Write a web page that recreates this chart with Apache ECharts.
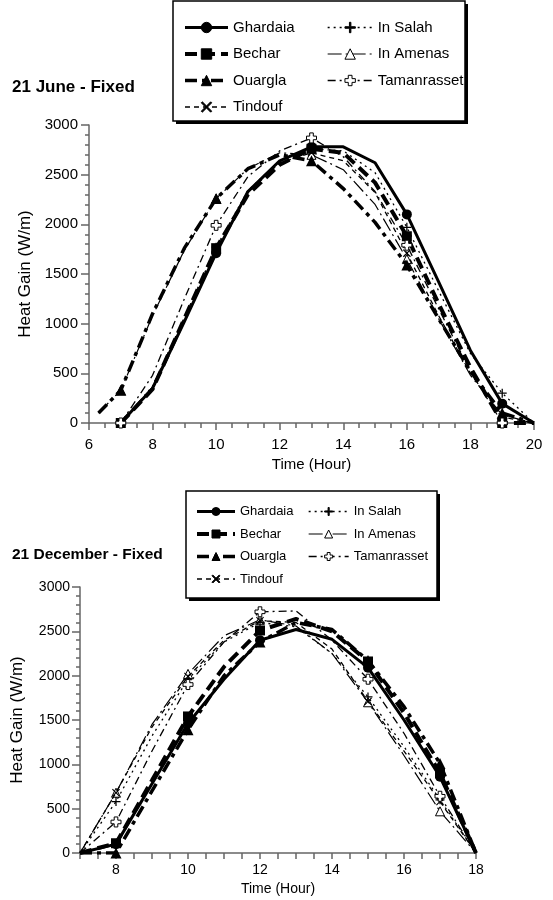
<!DOCTYPE html>
<html><head><meta charset="utf-8">
<script src="https://cdn.jsdelivr.net/npm/echarts@6/dist/echarts.min.js"></script>
<style>html,body{margin:0;padding:0;background:#fff}#c{width:553px;height:900px}</style>
</head><body><div id="c"></div>
<script>
const stations = ['Ghardaia','Bechar','Ouargla','Tindouf','In Salah','In Amenas','Tamanrasset'];

// 21 June - Fixed
const juneHours       = [6.3, 7, 8, 9, 10, 11, 12, 13, 14, 15, 16, 17, 18, 19, 20];
const juneGhardaia    = [null, 0, 350, 1020, 1710, 2330, 2640, 2780, 2780, 2620, 2100, 1420, 730, 195, 0];
const juneBechar      = [null, 0, 340, 1050, 1760, 2300, 2600, 2760, 2720, 2420, 1880, 1200, 560, 0, 0];
const juneOuargla     = [100, 330, 1100, 1760, 2260, 2560, 2700, 2640, 2360, 2020, 1590, 1050, 520, 100, 0];
const juneTindouf     = [null, 0, 360, 1060, 1750, 2320, 2620, 2720, 2640, 2320, 1710, 1080, 500, 60, 0];
const juneInSalah     = [null, 0, 370, 1060, 1770, 2340, 2640, 2760, 2740, 2520, 1970, 1330, 700, 300, 0];
const juneInAmenas    = [100, 330, 1080, 1740, 2260, 2560, 2720, 2700, 2550, 2200, 1650, 1050, 480, 80, 0];
const juneTamanrasset = [null, 0, 480, 1250, 1990, 2480, 2740, 2870, 2680, 2330, 1790, 1150, 520, 0, null];
const juneMarkHours   = [7, 10, 13, 16, 19];

// 21 December - Fixed
const decHours        = [7, 8, 9, 10, 11, 12, 13, 14, 15, 16, 17, 18];
const decGhardaia     = [0, 100, 780, 1460, 1960, 2400, 2520, 2410, 2090, 1500, 860, 0];
const decBechar       = [0, 110, 820, 1540, 2100, 2510, 2640, 2500, 2160, 1580, 900, 0];
const decOuargla      = [0, 0, 700, 1390, 2000, 2380, 2600, 2520, 2170, 1650, 1010, 0];
const decTindouf      = [0, 680, 1420, 1990, 2400, 2620, 2600, 2300, 1710, 1150, 580, 0];
const decInSalah      = [0, 580, 1320, 1960, 2380, 2600, 2550, 2250, 1760, 1200, 600, 0];
const decInAmenas     = [0, 680, 1450, 2020, 2450, 2630, 2560, 2250, 1700, 1100, 470, 0];
const decTamanrasset  = [0, 350, 1150, 1900, 2380, 2720, 2730, 2400, 1960, 1350, 640, 0];
const decMarkHours    = [8, 10, 12, 15, 17];

const juneValues = [juneGhardaia, juneBechar, juneOuargla, juneTindouf, juneInSalah, juneInAmenas, juneTamanrasset];
const decValues  = [decGhardaia, decBechar, decOuargla, decTindouf, decInSalah, decInAmenas, decTamanrasset];

const xPath = 'path://M1,0L5,4L9,0L10,1L6,5L10,9L9,10L5,6L1,10L0,9L4,5L0,1Z';
const plusPath = 'path://M4.3,0H5.7V4.3H10V5.7H5.7V10H4.3V5.7H0V4.3H4.3Z';
const crossPath = 'path://M3.2,0H6.8V3.2H10V6.8H6.8V10H3.2V6.8H0V3.2H3.2Z';

const styles = {
  'Ghardaia':    {lw: 3,   type: 'solid',         symbol: 'circle',   size: 10, fill: '#000', z: 3},
  'Bechar':      {lw: 4,   type: [12, 6],         symbol: 'rect',     size: 10, fill: '#000', z: 4},
  'Ouargla':     {lw: 3.5, type: [12, 5, 4, 5],   symbol: 'triangle', size: 11, fill: '#000', z: 5},
  'Tindouf':     {lw: 1.3, type: [5, 4],          symbol: xPath,      size: 8,  fill: '#000', z: 6},
  'In Salah':    {lw: 1.3, type: [2, 4],          symbol: plusPath,   size: 9,  fill: '#000', z: 7},
  'In Amenas':   {lw: 1.2, type: [14, 4, 2, 4],   symbol: 'triangle', size: 9,  fill: '#fff', border: '#000', z: 2},
  'Tamanrasset': {lw: 1.3, type: [8, 4, 2, 4],    symbol: crossPath,  size: 10, fill: '#fff', border: '#000', z: 9}
};

function makeSeries(hours, valuesList, marks, axisIdx) {
  return stations.map((name, k) => {
    const st = styles[name];
    const data = hours.map((h, i) => [h, valuesList[k][i]]).filter(d => d[1] !== null);
    return {
      name: name, type: 'line', xAxisIndex: axisIdx, yAxisIndex: axisIdx,
      data: data, showSymbol: true, showAllSymbol: true,
      symbol: st.symbol,
      symbolSize: function (v) { return marks.indexOf(v[0]) >= 0 ? st.size : 0; },
      lineStyle: {color: '#000', width: st.lw, type: st.type},
      itemStyle: {color: st.fill, borderColor: st.border || '#000', borderWidth: st.border ? 1 : 0},
      z: st.z,
      animation: false,
      emphasis: {disabled: true}
    };
  });
}

const font = 'Liberation Sans, Arial, sans-serif';
const axisLineStyle = {color: '#666', width: 1.5};
const plain = function (v) { return String(v); };

function legend(names, left, top, iw, ih, gap, fs) {
  return {
    data: names, orient: 'vertical', left: left, top: top, padding: 0,
    itemWidth: iw, itemHeight: ih, itemGap: gap, selectedMode: false,
    textStyle: {fontSize: fs, color: '#000', fontFamily: font},
    lineStyle: {width: 'inherit'},
    itemStyle: {borderWidth: 1}
  };
}

const option = {
  animation: false,
  backgroundColor: '#fff',
  title: [
    {text: '21 June - Fixed', left: 12, top: 79, padding: 0,
     textStyle: {fontSize: 17, fontWeight: 'bold', color: '#000', fontFamily: font}},
    {text: '21 December - Fixed', left: 12, top: 547, padding: 0,
     textStyle: {fontSize: 15.5, fontWeight: 'bold', color: '#000', fontFamily: font}}
  ],
  graphic: [
    {type: 'rect', shape: {x: 176, y: 4, width: 292, height: 120}, style: {fill: '#000'}, z: 0},
    {type: 'rect', shape: {x: 173, y: 1, width: 292, height: 120}, style: {fill: '#fff', stroke: '#000', lineWidth: 1.5}, z: 1},
    {type: 'rect', shape: {x: 189, y: 494, width: 251, height: 107}, style: {fill: '#000'}, z: 0},
    {type: 'rect', shape: {x: 186, y: 491, width: 251, height: 107}, style: {fill: '#fff', stroke: '#000', lineWidth: 1.5}, z: 1}
  ],
  legend: [
    legend(stations.slice(0, 4), 183, 20, 43, 13, 11.5, 15),
    legend(stations.slice(4), 327, 20, 45, 13, 11.5, 15),
    legend(stations.slice(0, 4), 195, 505, 38, 10, 9.5, 13),
    legend(stations.slice(4), 308, 505, 40, 10, 9.5, 13)
  ],
  grid: [
    {left: 89, right: 19, top: 125, height: 298},
    {left: 80, right: 77, top: 587, height: 266}
  ],
  xAxis: [
    {type: 'value', gridIndex: 0, min: 6, max: 20, interval: 2,
     name: 'Time (Hour)', nameLocation: 'middle', nameGap: 34,
     nameTextStyle: {fontSize: 15, color: '#000', fontFamily: font},
     axisLine: {lineStyle: axisLineStyle},
     axisTick: {length: 7, lineStyle: axisLineStyle},
     minorTick: {show: true, splitNumber: 4, length: 5, lineStyle: axisLineStyle},
     axisLabel: {fontSize: 15, color: '#000', margin: 14, fontFamily: font, formatter: plain},
     splitLine: {show: false}},
    {type: 'value', gridIndex: 1, min: 7, max: 18, interval: 0.5,
     name: 'Time (Hour)', nameLocation: 'middle', nameGap: 29,
     nameTextStyle: {fontSize: 14, color: '#000', fontFamily: font},
     axisLine: {lineStyle: axisLineStyle},
     axisTick: {length: 6, lineStyle: axisLineStyle},
     axisLabel: {fontSize: 14, color: '#000', margin: 10, fontFamily: font,
       formatter: function (v) { return v % 2 === 0 ? String(v) : ''; }},
     splitLine: {show: false}}
  ],
  yAxis: [
    {type: 'value', gridIndex: 0, min: 0, max: 3000, interval: 500,
     name: 'Heat Gain (W/m)', nameLocation: 'middle', nameGap: 54,
     nameTextStyle: {fontSize: 17, color: '#000', fontFamily: font},
     axisLine: {show: true, lineStyle: axisLineStyle},
     axisTick: {show: true, length: 8, lineStyle: axisLineStyle},
     minorTick: {show: true, splitNumber: 5, length: 4, lineStyle: axisLineStyle},
     axisLabel: {fontSize: 15, color: '#000', margin: 11, fontFamily: font, formatter: plain},
     splitLine: {show: false}},
    {type: 'value', gridIndex: 1, min: 0, max: 3000, interval: 500,
     name: 'Heat Gain (W/m)', nameLocation: 'middle', nameGap: 54,
     nameTextStyle: {fontSize: 17, color: '#000', fontFamily: font},
     axisLine: {show: true, lineStyle: axisLineStyle},
     axisTick: {show: true, length: 8, lineStyle: axisLineStyle},
     minorTick: {show: true, splitNumber: 5, length: 4, lineStyle: axisLineStyle},
     axisLabel: {fontSize: 14, color: '#000', margin: 10, fontFamily: font, formatter: plain},
     splitLine: {show: false}}
  ],
  series: makeSeries(juneHours, juneValues, juneMarkHours, 0)
    .concat(makeSeries(decHours, decValues, decMarkHours, 1))
};

const chart = echarts.init(document.getElementById('c'), null, {renderer: 'canvas'});
chart.setOption(option);
</script>
</body></html>
